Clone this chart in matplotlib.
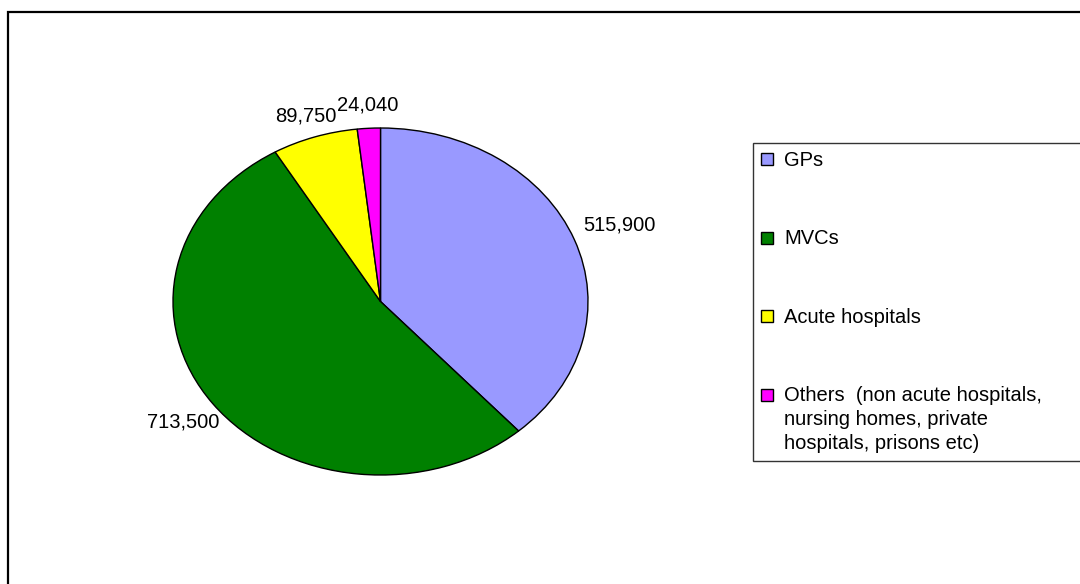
import numpy as np
import matplotlib
matplotlib.use("Agg")
import matplotlib.pyplot as plt
from matplotlib.patches import Patch, Rectangle
from matplotlib.legend_handler import HandlerPatch

plt.rcParams["font.family"] = ["Liberation Sans", "DejaVu Sans"]

# datos
categorias = ["GPs", "MVCs", "Acute hospitals",
              "Others  (non acute hospitals,\nnursing homes, private\nhospitals, prisons etc)"]
valores = [515900, 713500, 89750, 24040]
etiquetas = ["515,900", "713,500", "89,750", "24,040"]
colores = ["#9999FF", "#008000", "#FFFF00", "#FF00FF"]
dist_etiqueta = [1.23, 1.18, 1.13, 1.135]

FS = 14.5
W, H = 1080, 584
fig = plt.figure(figsize=(W / 100, H / 100), dpi=100)
fig.patch.set_facecolor("white")

# marco exterior (se sale por la derecha y abajo)
fig.add_artist(Rectangle((8 / W, -0.1), 1.2, (H - 12) / H + 0.1,
                         transform=fig.transFigure, fill=False,
                         edgecolor="black", lw=1.6))

# tarta elíptica
ax = fig.add_axes([173 / W, (H - 475) / H, 415 / W, 347 / H])
cunas, textos = ax.pie(valores, labels=etiquetas, colors=colores,
                       startangle=90, counterclock=False,
                       wedgeprops=dict(edgecolor="black", linewidth=1),
                       textprops=dict(fontsize=FS, color="black"))
ax.set_aspect("auto")
ax.set_xlim(-1, 1)
ax.set_ylim(-1, 1)

for w, t, r in zip(cunas, textos, dist_etiqueta):
    th = np.deg2rad((w.theta1 + w.theta2) / 2)
    t.set_position((r * np.cos(th), r * np.sin(th)))
    t.set_ha("center")
    t.set_va("center")


# cuadradito centrado en la primera línea del texto
def cuadrado(legend, orig_handle, xdescent, ydescent, width, height, fontsize):
    s = 0.6 * fontsize
    xc = -xdescent + width / 2
    yc = -ydescent + height / 2
    return Rectangle((xc - s / 2, yc - s / 2), s, s)


manejadores = [Patch(facecolor=c, edgecolor="black", lw=1) for c in colores]
leg = fig.legend(manejadores, categorias, loc="upper left",
                 bbox_to_anchor=(753 / W, 1 - 143 / H, 0.4, 0), mode="expand",
                 borderaxespad=0, fontsize=FS, frameon=True, fancybox=False,
                 edgecolor="#333333", framealpha=1,
                 borderpad=0.4, handlelength=0.6, handleheight=0.9,
                 handletextpad=0.55, labelspacing=2.95,
                 handler_map={Patch: HandlerPatch(patch_func=cuadrado)})
leg.get_frame().set_linewidth(1)
for t in leg.get_texts():
    t.set_linespacing(1.32)
for col in leg._legend_handle_box.get_children():
    for fila in col.get_children():
        fila.align = "top"

fig.savefig("out.png", dpi=100, facecolor="white")
